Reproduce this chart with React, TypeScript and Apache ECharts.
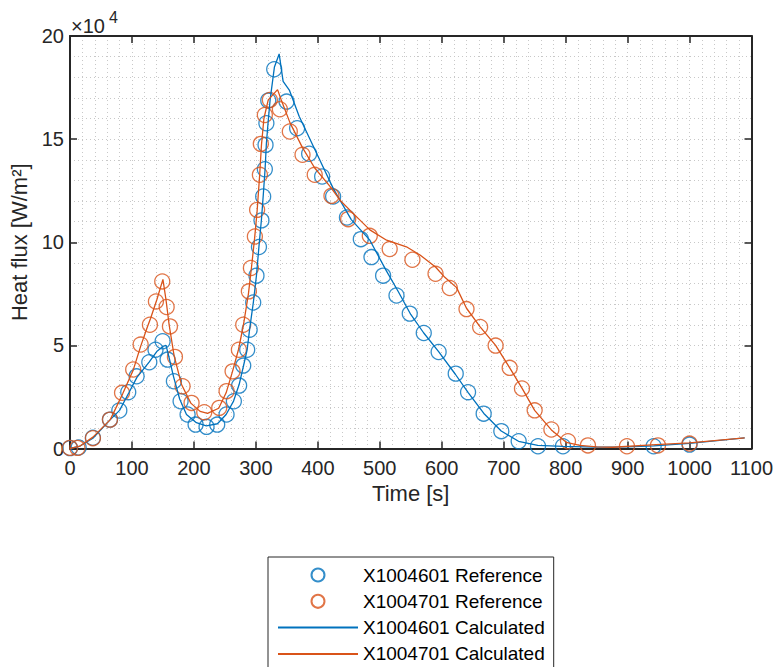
import React, { useEffect, useRef } from "react";
import * as echarts from "echarts";

// Time [s], heat flux in units of 1e4 W/m^2
const blueRef: [number, number][] = [
  [0, 0.02], [14, 0.05], [37, 0.52], [64.5, 1.4], [79.6, 1.84], [94, 2.73], [107.5, 3.5],
  [128, 4.18], [138, 4.79], [149.5, 5.2], [157.5, 4.31], [167.7, 3.26], [178.5, 2.29],
  [189.8, 1.65], [202.7, 1.16], [220.4, 1.05], [237.6, 1.16], [252.7, 1.65], [264.5, 2.29],
  [273, 3.05], [279.6, 4.02], [286, 4.79], [290, 5.76], [295.7, 7.08], [301, 8.38],
  [305, 9.77], [309, 11.06], [311.8, 12.22], [314.5, 13.54], [315.6, 14.72], [317, 15.77],
  [320, 16.87], [329.6, 18.39], [349.5, 16.82], [366.6, 15.53], [386, 14.29], [407, 13.19],
  [424.7, 12.22], [447, 11.2], [469.4, 10.15], [486.6, 9.28], [505.4, 8.38], [527, 7.42],
  [548.4, 6.54], [571, 5.6], [595, 4.68], [622.6, 3.63], [642.5, 2.73], [667.7, 1.69],
  [696.2, 0.84], [724.2, 0.35], [755.4, 0.11], [795.7, 0.11], [942, 0.11], [1000, 0.19],
];

const orangeRef: [number, number][] = [
  [0, 0.03], [12, 0.03], [37, 0.5], [64.5, 1.4], [84, 2.7], [102, 3.83], [114, 5.04],
  [129, 6.0], [138.7, 7.13], [148.9, 8.1], [156, 6.86], [161.3, 5.92], [169.4, 4.44],
  [181.7, 3.02], [196.2, 2.21], [216.7, 1.76], [240.9, 1.97], [252.7, 2.78], [262.4, 3.74],
  [272.6, 4.79], [279.6, 6.0], [288.7, 7.62], [292, 8.75], [298.4, 10.28], [302, 11.57],
  [306.5, 13.27], [308, 14.77], [314.5, 16.17], [322.6, 16.9], [338.7, 16.45],
  [354.8, 15.37], [375.3, 14.24], [395, 13.27], [422, 12.25], [449, 11.12], [483.9, 10.31],
  [516, 9.67], [552.7, 9.15], [590, 8.47], [613, 7.78], [640, 6.76], [662, 5.89], [687, 4.99],
  [709.7, 3.91], [729.5, 2.91], [750, 1.85], [777, 0.92], [803.8, 0.35], [836, 0.15],
  [899, 0.11], [949, 0.15], [1000, 0.24],
];

const blueCalc: [number, number][] = [
  [0, 0], [15, 0.1], [37, 0.5], [65, 1.4], [80, 1.85], [95, 2.7], [108, 3.45], [128, 4.2],
  [140, 4.7], [150, 4.95], [155, 5.0], [160, 4.4], [167, 3.5], [177, 2.4], [188, 1.65],
  [204, 1.25], [220, 1.1], [238, 1.2], [252, 1.65], [264, 2.3], [273, 3.1], [280, 4.0],
  [286, 4.8], [290, 5.8], [296, 7.1], [301, 8.4], [305, 9.8], [309, 11.1], [312, 12.3],
  [315, 13.6], [317, 14.8], [320, 15.9], [323, 16.9], [330, 18.5], [337.6, 19.13],
  [344, 17.8], [354, 17.38], [370, 16.1], [403, 14.0], [425, 12.6], [454, 11.1],
  [484, 10.1], [510, 8.65], [530, 7.6], [550, 6.5], [571, 5.6], [595, 4.7], [622, 3.6],
  [643, 2.7], [668, 1.7], [696, 0.85], [724, 0.35], [755, 0.15], [796, 0.1], [850, 0.07],
  [900, 0.08], [942, 0.13], [1000, 0.25], [1089, 0.52],
];

const orangeCalc: [number, number][] = [
  [0, 0], [15, 0.1], [37, 0.55], [65, 1.4], [85, 2.65], [102, 3.8], [114, 4.95],
  [125, 5.9], [130, 6.3], [140, 7.2], [150, 8.2], [155, 7.2], [160, 6.0], [168, 4.5],
  [180, 3.1], [195, 2.2], [210, 1.8], [222, 1.7], [240, 1.95], [252, 2.7], [262, 3.7],
  [272, 4.8], [280, 6.0], [288, 7.5], [293, 8.8], [298, 10.2], [302, 11.5], [306, 13.2],
  [309, 14.7], [313, 16.0], [320, 16.9], [335, 17.4], [341, 16.9], [355, 15.8],
  [375, 14.6], [395, 13.6], [420, 12.7], [437, 12.0], [457, 11.4], [484, 10.6],
  [511, 10.1], [543, 9.78], [565, 9.38], [590, 8.8], [605, 8.3], [624, 7.8], [640, 6.8],
  [662, 5.9], [687, 5.0], [710, 3.9], [730, 2.9], [750, 1.85], [777, 0.9], [801, 0.3],
  [823, 0.15], [850, 0.08], [876, 0.06], [946, 0.19], [1000, 0.27], [1089, 0.52],
];

const seriesNames = [
  "X1004601 Reference",
  "X1004701 Reference",
  "X1004601 Calculated",
  "X1004701 Calculated",
];

const BLUE = "#0072BD";
const ORANGE = "#D95319";
const AX = "#262626";
const FONT = "'Liberation Sans', Arial, sans-serif";

export default function App() {
  const ref = useRef<HTMLDivElement>(null);
  useEffect(() => {
    if (!ref.current) return;
    const chart = echarts.init(ref.current, null, { renderer: "svg" });
    const gridLine = { show: true, lineStyle: { color: "#c8c8c8", width: 1, type: [1, 3] as any } };
    const tick = { show: true, inside: true, length: 7, lineStyle: { color: AX, width: 1.5 } };
    const axLine = { show: true, onZero: false, lineStyle: { color: AX, width: 2 } };
    const noSymbol = { color: "rgba(0,0,0,0)", borderColor: "rgba(0,0,0,0)", borderWidth: 0, opacity: 0 };
    chart.setOption({
      animation: false,
      backgroundColor: "#fff",
      textStyle: { fontFamily: FONT },
      grid: { left: 70, right: 24, top: 36, bottom: 218.5, containLabel: false },
      xAxis: [
        {
          type: "value", min: 0, max: 1100, interval: 100, position: "bottom",
          axisLine: axLine, axisTick: tick,
          axisLabel: { fontSize: 20, color: AX, margin: 9, fontFamily: FONT, formatter: (v: number) => String(v) },
          splitLine: gridLine,
          minorTick: { show: false, splitNumber: 5 },
          minorSplitLine: gridLine,
          name: "Time [s]", nameLocation: "middle", nameGap: 34,
          nameTextStyle: { fontSize: 22, color: AX, fontFamily: FONT },
        },
        {
          type: "value", min: 0, max: 1100, interval: 100, position: "top",
          axisLine: axLine, axisTick: tick, axisLabel: { show: false }, splitLine: { show: false },
        },
      ],
      yAxis: [
        {
          type: "value", min: 0, max: 20, interval: 5, position: "left",
          axisLine: axLine, axisTick: tick,
          axisLabel: { fontSize: 20, color: AX, margin: 6, fontFamily: FONT },
          splitLine: gridLine,
          minorTick: { show: false, splitNumber: 5 },
          minorSplitLine: gridLine,
          name: "Heat flux [W/m²]", nameLocation: "middle", nameGap: 30,
          nameTextStyle: { fontSize: 22, color: AX, fontFamily: FONT },
        },
        {
          type: "value", min: 0, max: 20, interval: 5, position: "right",
          axisLine: axLine, axisTick: tick, axisLabel: { show: false }, splitLine: { show: false },
        },
      ],
      legend: {
        orient: "vertical", left: 268, top: 557, height: 140,
        itemWidth: 80, itemHeight: 13, itemGap: 6.3,
        padding: [8, 9, 9, 9],
        borderColor: AX, borderWidth: 1, backgroundColor: "#fff",
        textStyle: { fontSize: 19, color: "#000", lineHeight: 20, fontFamily: FONT },
        data: [
          { name: seriesNames[0] },
          { name: seriesNames[1] },
          { name: seriesNames[2], itemStyle: noSymbol },
          { name: seriesNames[3], itemStyle: noSymbol },
        ],
      },
      graphic: [
        { type: "text", left: 71, top: 16, style: { text: "×10", font: `20px ${FONT}`, fill: AX } },
        { type: "text", left: 109, top: 9, style: { text: "4", font: `16px ${FONT}`, fill: AX } },
      ],
      series: [
        {
          name: seriesNames[0], type: "scatter", data: blueRef, symbol: "circle", symbolSize: 15,
          itemStyle: { color: "rgba(255,255,255,0)", borderColor: BLUE, borderWidth: 1.3 },
        },
        {
          name: seriesNames[1], type: "scatter", data: orangeRef, symbol: "circle", symbolSize: 15,
          itemStyle: { color: "rgba(255,255,255,0)", borderColor: ORANGE, borderWidth: 1.3 },
        },
        {
          name: seriesNames[2], type: "line", data: blueCalc, symbol: "none", showSymbol: false,
          lineStyle: { color: BLUE, width: 1.3 }, itemStyle: { color: BLUE },
        },
        {
          name: seriesNames[3], type: "line", data: orangeCalc, symbol: "none", showSymbol: false,
          lineStyle: { color: ORANGE, width: 1.3 }, itemStyle: { color: ORANGE },
        },
      ],
    });
    return () => chart.dispose();
  }, []);
  return (
    <div
      ref={ref}
      style={{ position: "fixed", left: 0, top: 0, width: 776, height: 667 }}
    />
  );
}
